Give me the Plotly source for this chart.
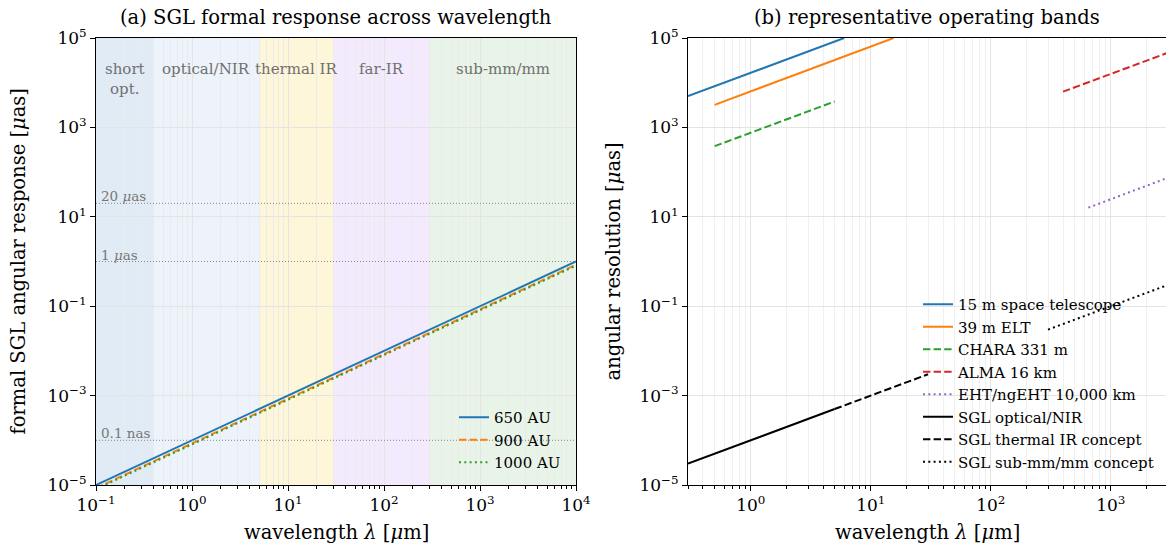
import math
import plotly.graph_objects as go

# ---------------- data ----------------
# Panel (a): formal SGL response, straight lines in log-log space (endpoints)
lam_a = [0.1, 1.0e4]                    # wavelength [um]
resp_650 = [1.0e-5, 1.0]                # [uas]
resp_900 = [8.5e-6, 0.85]
resp_1000 = [8.1e-6, 0.81]

# Wavelength bands [um]
band_names = ["short<br>opt.", "optical/NIR", "thermal IR", "far-IR", "sub-mm/mm"]
band_lo = [0.1, 0.4, 5.0, 30.0, 300.0]
band_hi = [0.4, 5.0, 30.0, 300.0, 1.0e4]
band_colors = ["#e1ebf6", "#edf3fb", "#fef6d9", "#f3ebfd", "#e8f4e8"]

# Reference levels [uas]
ref_levels = [20.0, 1.0, 1.0e-4]
ref_labels = ["20 <i>μ</i>as", "1 <i>μ</i>as", "0.1 nas"]

# Panel (b): representative operating bands (endpoints)
tel_names = ["15 m space telescope", "39 m ELT", "CHARA 331 m", "ALMA 16 km",
             "EHT/ngEHT 10,000 km", "SGL optical/NIR", "SGL thermal IR concept",
             "SGL sub-mm/mm concept"]
tel_lam = [[0.3, 6.0], [0.5, 15.5], [0.5, 5.0], [400.0, 3000.0],
           [650.0, 3000.0], [0.3, 5.0], [5.0, 30.0], [300.0, 3000.0]]
tel_res = [[5.0e3, 1.0e5], [3.2e3, 1.0e5], [3.8e2, 3.8e3], [6.3e3, 4.7e4],
           [16.0, 75.0], [3.0e-5, 5.0e-4], [5.0e-4, 3.0e-3], [3.0e-2, 3.0e-1]]
tel_colors = ["#1f77b4", "#ff7f0e", "#2ca02c", "#d62728", "#9467bd",
              "black", "black", "black"]
DASH = "7.4px,3.2px"
DOT = "2px,3.3px"
tel_dash = ["solid", "solid", DASH, DASH, DOT, "solid", DASH, DOT]

# ---------------- layout geometry ----------------
W, H = 1166, 544
FONT = "DejaVu Serif"
LBL = 19.5
ytop, ybot = 38, 485
dom_y = [1 - ybot / H, 1 - ytop / H]
dom_x1 = [96 / W, 576 / W]
dom_x2 = [688 / W, 1.0]

fig = go.Figure()

# Panel (a) traces
fig.add_trace(go.Scatter(x=lam_a, y=resp_650, mode="lines", name="650 AU",
                         line=dict(color="#1f77b4", width=2), xaxis="x", yaxis="y",
                         legend="legend"))
fig.add_trace(go.Scatter(x=lam_a, y=resp_900, mode="lines", name="900 AU",
                         line=dict(color="#ff7f0e", width=2, dash=DASH), xaxis="x", yaxis="y",
                         legend="legend"))
fig.add_trace(go.Scatter(x=lam_a, y=resp_1000, mode="lines", name="1000 AU",
                         line=dict(color="#2ca02c", width=2, dash=DOT), xaxis="x", yaxis="y",
                         legend="legend"))

# Panel (b) traces
for nm, lx, ry, c, d in zip(tel_names, tel_lam, tel_res, tel_colors, tel_dash):
    fig.add_trace(go.Scatter(x=lx, y=ry, mode="lines", name=nm,
                             line=dict(color=c, width=2, dash=d),
                             xaxis="x2", yaxis="y2", legend="legend2"))

shapes = []
annotations = []
for nm, lo, hi, col in zip(band_names, band_lo, band_hi, band_colors):
    shapes.append(dict(type="rect", xref="x", yref="paper", x0=lo, x1=hi,
                       y0=dom_y[0], y1=dom_y[1],
                       fillcolor=col, line=dict(width=0), layer="below"))
    cx = math.log10(math.sqrt(lo * hi))
    annotations.append(dict(xref="x", yref="paper", x=cx, y=1 - 58 / H,
                            text=nm, showarrow=False, xanchor="center", yanchor="top",
                            font=dict(family=FONT, size=15, color="#707070")))
for lv, lb in zip(ref_levels, ref_labels):
    shapes.append(dict(type="line", xref="paper", yref="y", x0=dom_x1[0], x1=dom_x1[1],
                       y0=lv, y1=lv,
                       line=dict(color="#888888", width=1, dash="1px,2px"), layer="above"))
    annotations.append(dict(xref="paper", yref="y", x=99 / W, y=math.log10(lv),
                            text=lb, showarrow=False, xanchor="left", yanchor="bottom",
                            yshift=-3, font=dict(family=FONT, size=13.5, color="#777777")))

# titles & axis labels
annotations += [
    dict(xref="paper", yref="paper", x=(96 + 576) / 2 / W, y=1 - 18 / H,
         text="(a) SGL formal response across wavelength", showarrow=False,
         xanchor="center", yanchor="middle",
         font=dict(family=FONT, size=LBL, color="black")),
    dict(xref="paper", yref="paper", x=(688 + 1166) / 2 / W, y=1 - 18 / H,
         text="(b) representative operating bands", showarrow=False,
         xanchor="center", yanchor="middle",
         font=dict(family=FONT, size=LBL, color="black")),
    dict(xref="paper", yref="paper", x=(96 + 576) / 2 / W, y=1 - 532 / H,
         text="wavelength <i>λ</i> [<i>μ</i>m]", showarrow=False,
         xanchor="center", yanchor="middle",
         font=dict(family=FONT, size=LBL, color="black")),
    dict(xref="paper", yref="paper", x=(688 + 1166) / 2 / W, y=1 - 532 / H,
         text="wavelength <i>λ</i> [<i>μ</i>m]", showarrow=False,
         xanchor="center", yanchor="middle",
         font=dict(family=FONT, size=LBL, color="black")),
    dict(xref="paper", yref="paper", x=18 / W, y=1 - (ytop + ybot) / 2 / H,
         text="formal SGL angular response [<i>μ</i>as]", showarrow=False, textangle=-90,
         xanchor="center", yanchor="middle",
         font=dict(family=FONT, size=LBL, color="black")),
    dict(xref="paper", yref="paper", x=613 / W, y=1 - (ytop + ybot) / 2 / H,
         text="angular resolution [<i>μ</i>as]", showarrow=False, textangle=-90,
         xanchor="center", yanchor="middle",
         font=dict(family=FONT, size=LBL, color="black")),
]


def sup(e):
    s = str(e).replace("-", "−")
    return "10<sup>" + s + "</sup>"


def minor_vals(a, b):
    return [m * 10 ** e for e in range(a, b) for m in range(2, 10)]


yt = [10.0 ** e for e in range(-5, 6, 2)]
axis_common = dict(type="log", showline=True, linecolor="black", linewidth=1,
                   ticks="outside", ticklen=5, tickwidth=1, tickcolor="black",
                   gridcolor="#e4e4e4", gridwidth=0.8, zeroline=False, automargin=False,
                   tickfont=dict(family=FONT, size=17, color="black"))

fig.update_layout(
    width=W, height=H, margin=dict(l=0, r=0, t=0, b=0, autoexpand=False),
    paper_bgcolor="white", plot_bgcolor="white",
    showlegend=True,
    xaxis=dict(axis_common, domain=dom_x1, anchor="y", mirror=True,
               range=[-1, 4], tickvals=[10.0 ** e for e in range(-1, 5)],
               ticktext=[sup(e) for e in range(-1, 5)],
               minor=dict(tickvals=minor_vals(-1, 4), ticks="outside", ticklen=3,
                          tickcolor="black", showgrid=True, gridcolor="#ebebeb",
                          gridwidth=0.6)),
    yaxis=dict(axis_common, domain=dom_y, anchor="x", mirror=True,
               range=[-5, 5], tickvals=yt, ticktext=[sup(e) for e in range(-5, 6, 2)]),
    xaxis2=dict(axis_common, domain=dom_x2, anchor="y2", mirror=True,
                range=[math.log10(0.3), 3.460], tickvals=[10.0 ** e for e in range(0, 4)],
                ticktext=[sup(e) for e in range(0, 4)],
                minor=dict(tickvals=minor_vals(-1, 4), ticks="outside", ticklen=3,
                           tickcolor="black", showgrid=True, gridcolor="#f0f0f0",
                           gridwidth=0.6)),
    yaxis2=dict(axis_common, domain=dom_y, anchor="x2", mirror=False,
                range=[-5, 5], tickvals=yt, ticktext=[sup(e) for e in range(-5, 6, 2)]),
    legend=dict(x=454 / W, y=1 - 401 / H, xanchor="left", yanchor="top",
                bgcolor="rgba(0,0,0,0)", borderwidth=0,
                font=dict(family=FONT, size=15, color="black")),
    legend2=dict(x=918 / W, y=1 - 288 / H, xanchor="left", yanchor="top",
                 bgcolor="rgba(0,0,0,0)", borderwidth=0,
                 font=dict(family=FONT, size=15, color="black")),
    shapes=shapes, annotations=annotations,
)

fig.write_html("out.html")
